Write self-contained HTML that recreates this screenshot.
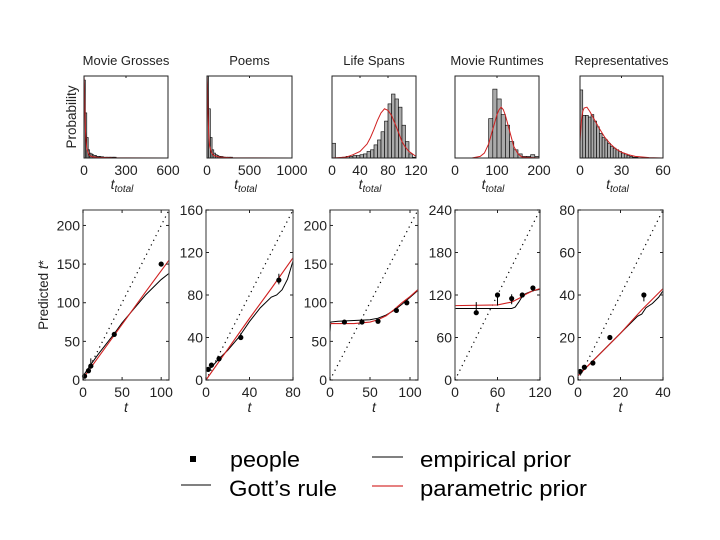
<!DOCTYPE html>
<html><head><meta charset="utf-8"><style>
html,body{margin:0;padding:0;background:#fff;}
svg{display:block;font-family:"Liberation Sans",sans-serif;}
</style></head><body>
<svg id="fig" width="720" height="540" viewBox="0 0 720 540">
<text x="76" y="117" font-size="13.5" fill="#222" text-anchor="middle" transform="rotate(-90 76 117)">Probability</text>
<text x="48" y="295" font-size="13.5" fill="#222" text-anchor="middle" transform="rotate(-90 48 295)">Predicted <tspan font-style="italic">t</tspan>*</text>
<g font-size="22" fill="#000">
<rect x="190" y="456" width="6" height="6" fill="#000"/>
<text x="230" y="467" textLength="70" lengthAdjust="spacingAndGlyphs">people</text>
<line x1="181" y1="485" x2="211" y2="485" stroke="#000" stroke-width="1"/>
<text x="229" y="496" textLength="108" lengthAdjust="spacingAndGlyphs">Gott’s rule</text>
<line x1="372" y1="457" x2="403" y2="457" stroke="#000" stroke-width="1"/>
<text x="420" y="467" textLength="151" lengthAdjust="spacingAndGlyphs">empirical prior</text>
<line x1="372" y1="486" x2="403" y2="486" stroke="#c00" stroke-width="1"/>
<text x="420" y="496" textLength="167" lengthAdjust="spacingAndGlyphs">parametric prior</text>
</g>
</svg>
<script>
// ---------- top row data ----------
const titles = ["Movie Grosses","Poems","Life Spans","Movie Runtimes","Representatives"];
const topXMax = [600,1000,120,200,60];
const topXTicks = [[0,300,600],[0,500,1000],[0,40,80,120],[0,100,200],[0,30,60]];
const binWidth = [10,20,5,10,2];
const grossHist = [0.95,0.55,0.25,0.1,0.06,0.05,0.04,0.03,0.03,0.02,0.02,0.02,0.015,0.015,0.01,0.01,0.01,0.01,0.01,0.01,0.01,0.01,0.01];
const poemHist = [1.0,0.6,0.25,0.1,0.06,0.04,0.03,0.02,0.02,0.015,0.01,0.01,0.01,0.01,0.01];
const lifeHist = [0.18,0,0,0.01,0.02,0.02,0.03,0.03,0.04,0.05,0.08,0.1,0.16,0.22,0.32,0.45,0.66,0.78,0.72,0.62,0.4,0.2,0.05,0.01];
const runtimeHist = [0,0,0,0,0,0,0,0,0.48,0.84,0.72,0.53,0.4,0.2,0.1,0.05,0.02,0.02,0.04,0.02];
const repHist = [0.83,0.52,0.52,0.5,0.53,0.45,0.38,0.3,0.25,0.22,0.18,0.14,0.12,0.1,0.08,0.06,0.05,0.03,0.02,0.01,0.01];
const hists = [grossHist,poemHist,lifeHist,runtimeHist,repHist];
const grossCurveX = [0,3,6,10,15,20,30,40,60,100,200,600];
const grossCurveY = [1.0,0.9,0.6,0.35,0.2,0.12,0.06,0.03,0.015,0.008,0.003,0];
const poemCurveX = [0,5,10,20,30,50,80,150,300,1000];
const poemCurveY = [1.0,0.9,0.6,0.3,0.15,0.07,0.03,0.01,0.003,0];
const lifeCurveX = [0,20,30,40,50,55,60,65,70,75,80,85,90,95,100,105,110,120];
const lifeCurveY = [0,0.01,0.04,0.08,0.17,0.25,0.35,0.46,0.55,0.6,0.58,0.52,0.42,0.31,0.2,0.13,0.08,0.02];
const runCurveX = [0,40,60,70,80,90,100,105,110,115,120,130,140,150,160,200];
const runCurveY = [0,0,0.02,0.06,0.17,0.35,0.53,0.59,0.62,0.59,0.52,0.33,0.14,0.05,0.01,0];
const repCurveX = [0,1,2,3,5,7,10,14,18,22,26,30,35,40,50,60];
const repCurveY = [0.2,0.45,0.57,0.61,0.62,0.57,0.48,0.36,0.25,0.17,0.11,0.07,0.04,0.02,0.005,0];
const curveXs = [grossCurveX,poemCurveX,lifeCurveX,runCurveX,repCurveX];
const curveYs = [grossCurveY,poemCurveY,lifeCurveY,runCurveY,repCurveY];

// ---------- bottom row data ----------
const botXMax = [110,80,110,120,40];
const botYMax = [220,160,220,240,80];
const botXTicks = [[0,50,100],[0,40,80],[0,50,100],[0,60,120],[0,20,40]];
const botYTicks = [[0,50,100,150,200],[0,40,80,120,160],[0,50,100,150,200],[0,60,120,180,240],[0,20,40,60,80]];
const peopleT = [[2,7,10,40,100],[2,5,12,32,67],[18,40,60,83,96],[30,60,80,95,110],[1,3,7,15,31]];
const peopleV = [[5,12,18,59,150],[10,14,20,40,94],[75,75,76,90,100],[95,120,115,120,130],[4,6,8,20,40]];
const errHi = [[6,14,28,62,152],[11,16,22,44,100],[76,76,77,91,102],[110,121,121,121,131],[5,7,9,21,41]];
const errLo = [[4,10,16,57,148],[9,12,18,38,90],[74,74,75,89,98],[92,105,107,119,125],[3,5,7,19,37]];
const paramT = [[0,20,40,60,80,110],[0,20,40,60,80],[0,10,30,50,60,70,80,90,100,110],[0,60,80,90,100,110,120],[0,10,20,30,40]];
const paramV = [[2,30,58,86,114,155],[0,29,58,86,115],[73,73,73,75,78,83,91,100,108,117],[105,106,110,115,121,126,129],[2,12,22,33,43]];
const empT = [[0,10,20,30,40,50,60,70,80,90,100,110],[0,5,12,20,30,40,50,60,65,70,75,80],[0,1,10,30,50,60,70,80,90,100,110],[0,80,85,90,95,100,110,120],[0,10,20,28,30,32,35,38,40]];
const empV = [[5,20,34,47,60,74,86,98,110,120,130,138],[8,12,20,28,40,55,68,78,80,85,95,112],[62,75,76,77,78,80,84,90,98,107,116],[101,101,103,110,118,122,126,128],[2,12,22,30,31,34,36,39,42]];

const NS = "http://www.w3.org/2000/svg";
const svg = document.getElementById("fig");
function mk(tag, attrs, parent){const e=document.createElementNS(NS,tag);for(const k in attrs)e.setAttribute(k,attrs[k]);(parent||svg).appendChild(e);return e;}

const boxX = [[84,168],[207,292],[332,416],[455,539],[580,663]];
titles.forEach((title,i)=>{
  const x0=boxX[i][0], x1=boxX[i][1], y0=76, y1=158;
  const g=mk("g",{});
  
  
  const sx=v=>x0+(v/topXMax[i])*(x1-x0);
  const sy=f=>y1-f*(y1-y0);
  const t=mk("text",{x:(x0+x1)/2,y:65,"font-size":13,"text-anchor":"middle",fill:"#222"},g);
  t.textContent=title;
  
  
  hists[i].forEach((h,k)=>{
    if(h<=0)return;
    const b=mk("rect",{x:sx(k*binWidth[i]),y:sy(h),width:Math.max(sx(binWidth[i])-sx(0),1),height:h*(y1-y0),fill:"#aaa",stroke:"#000","stroke-width":0.6},g);
    
    
  });
  const pts=curveXs[i].map((v,k)=>sx(v)+","+sy(curveYs[i][k])).join(" ");
  const c=mk("polyline",{points:pts,fill:"none",stroke:"#d02020","stroke-width":1},g);
  
  
  const r=mk("rect",{x:x0,y:y0,width:x1-x0,height:y1-y0,fill:"none",stroke:"#222","stroke-width":1},g);
  
  
  topXTicks[i].forEach(v=>{
    mk("line",{x1:sx(v),y1:y0,x2:sx(v),y2:y0+2,stroke:"#222"},g);
    const tl=mk("text",{x:sx(v),y:175,"font-size":14,"text-anchor":"middle",fill:"#222"},g);
    tl.textContent=v;
    
    
  });
  const xl=mk("text",{x:(x0+x1)/2-4,y:189,"font-size":14,"font-style":"italic","text-anchor":"middle",fill:"#222"},g);
  xl.innerHTML='t<tspan font-size="10" dy="3">total</tspan>';
  
  
});

const bBoxX=[[83,169],[206,293],[330,418],[455,540],[578,663]];
botXMax.forEach((xm,i)=>{
  const x0=bBoxX[i][0], x1=bBoxX[i][1], y0=210, y1=380;
  const g=mk("g",{});
  
  
  const sx=v=>x0+(v/xm)*(x1-x0);
  const sy=v=>y1-(v/botYMax[i])*(y1-y0);
  const gm=Math.min(xm, botYMax[i]/2);
  const gl=mk("line",{x1:sx(0),y1:sy(0),x2:sx(gm),y2:sy(2*gm),stroke:"#000","stroke-width":1.2,"stroke-dasharray":"1.2,4"},g);
  
  
  const ep=mk("polyline",{points:empT[i].map((v,k)=>sx(v)+","+sy(empV[i][k])).join(" "),fill:"none",stroke:"#000","stroke-width":1},g);
  
  
  const pp=mk("polyline",{points:paramT[i].map((v,k)=>sx(v)+","+sy(paramV[i][k])).join(" "),fill:"none",stroke:"#d02020","stroke-width":1.1},g);
  
  
  peopleT[i].forEach((t,k)=>{
    const eb=mk("line",{x1:sx(t),y1:sy(errLo[i][k]),x2:sx(t),y2:sy(errHi[i][k]),stroke:"#000","stroke-width":1},g);
    
    
    const d=mk("circle",{cx:sx(t),cy:sy(peopleV[i][k]),r:2.6,fill:"#000"},g);
    
    
  });
  const r=mk("rect",{x:x0,y:y0,width:x1-x0,height:y1-y0,fill:"none",stroke:"#555","stroke-width":1.2},g);
  
  
  botYTicks[i].forEach(v=>{
    mk("line",{x1:x0,y1:sy(v),x2:x0+3,y2:sy(v),stroke:"#222"},g);
    mk("line",{x1:x1,y1:sy(v),x2:x1-3,y2:sy(v),stroke:"#222"},g);
    const tl=mk("text",{x:x0-3,y:sy(v)+5,"font-size":14,"text-anchor":"end",fill:"#222"},g);
    tl.textContent=v;
    
    
  });
  botXTicks[i].forEach(v=>{
    mk("line",{x1:sx(v),y1:y1,x2:sx(v),y2:y1-3,stroke:"#222"},g);
    mk("line",{x1:sx(v),y1:y0,x2:sx(v),y2:y0+3,stroke:"#222"},g);
    const tl=mk("text",{x:sx(v),y:397,"font-size":14,"text-anchor":"middle",fill:"#222"},g);
    tl.textContent=v;
    
    
  });
  const xl=mk("text",{x:(x0+x1)/2,y:412,"font-size":14,"font-style":"italic","text-anchor":"middle",fill:"#222"},g);
  xl.textContent="t";
  
  
});
</script>
</body></html>
